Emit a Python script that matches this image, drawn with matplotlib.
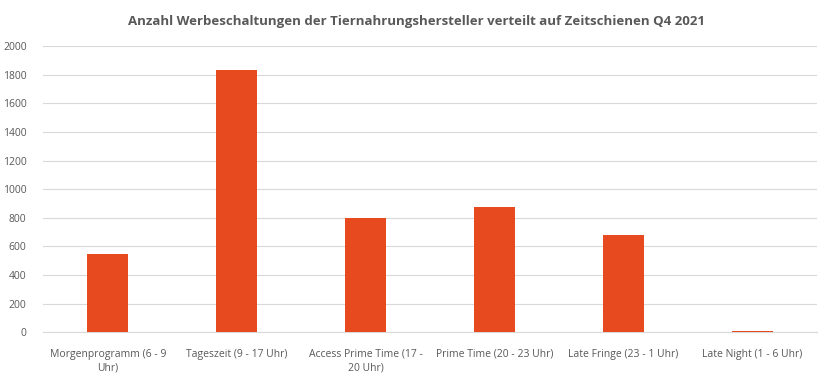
import matplotlib.pyplot as plt
import numpy as np

kategorien = ['Morgenprogramm (6 - 9\nUhr)', 'Tageszeit (9 - 17 Uhr)', 'Access Prime Time (17 -\n20 Uhr)',
              'Prime Time (20 - 23 Uhr)', 'Late Fringe (23 - 1 Uhr)', 'Late Night (1 - 6 Uhr)']
werte = [545, 1835, 795, 875, 678, 10]
yticks = [0, 200, 400, 600, 800, 1000, 1200, 1400, 1600, 1800, 2000]

plt.rcParams['font.family'] = ['Open Sans', 'DejaVu Sans']
grau = '#595959'

fig = plt.figure(figsize=(8.32, 3.84), dpi=100)
ax = fig.add_axes([0.052, 0.135, 0.930, 0.745])

x = np.arange(len(kategorien))
ax.bar(x, werte, width=0.32, color='#E84A1F', zorder=3)

ax.set_xlim(-0.5, len(kategorien) - 0.5)
ax.set_ylim(0, 2000)
ax.set_yticks(yticks)
ax.set_xticks(x)
ax.set_xticklabels(kategorien, fontsize=7.5, color=grau, linespacing=1.3)
ax.tick_params(axis='y', labelsize=7.5, labelcolor=grau, length=0, pad=12)
ax.tick_params(axis='x', length=0, pad=12)
ax.grid(axis='y', color='#d9d9d9', linewidth=0.8, zorder=0)
for s in ['top', 'right', 'left']:
    ax.spines[s].set_visible(False)
ax.spines['bottom'].set_color('#d9d9d9')

fig.text(0.5, 0.945, 'Anzahl Werbeschaltungen der Tiernahrungshersteller verteilt auf Zeitschienen Q4 2021',
         ha='center', va='center', fontsize=9.5, fontweight='bold', color=grau)

fig.savefig('out.png', dpi=100)
